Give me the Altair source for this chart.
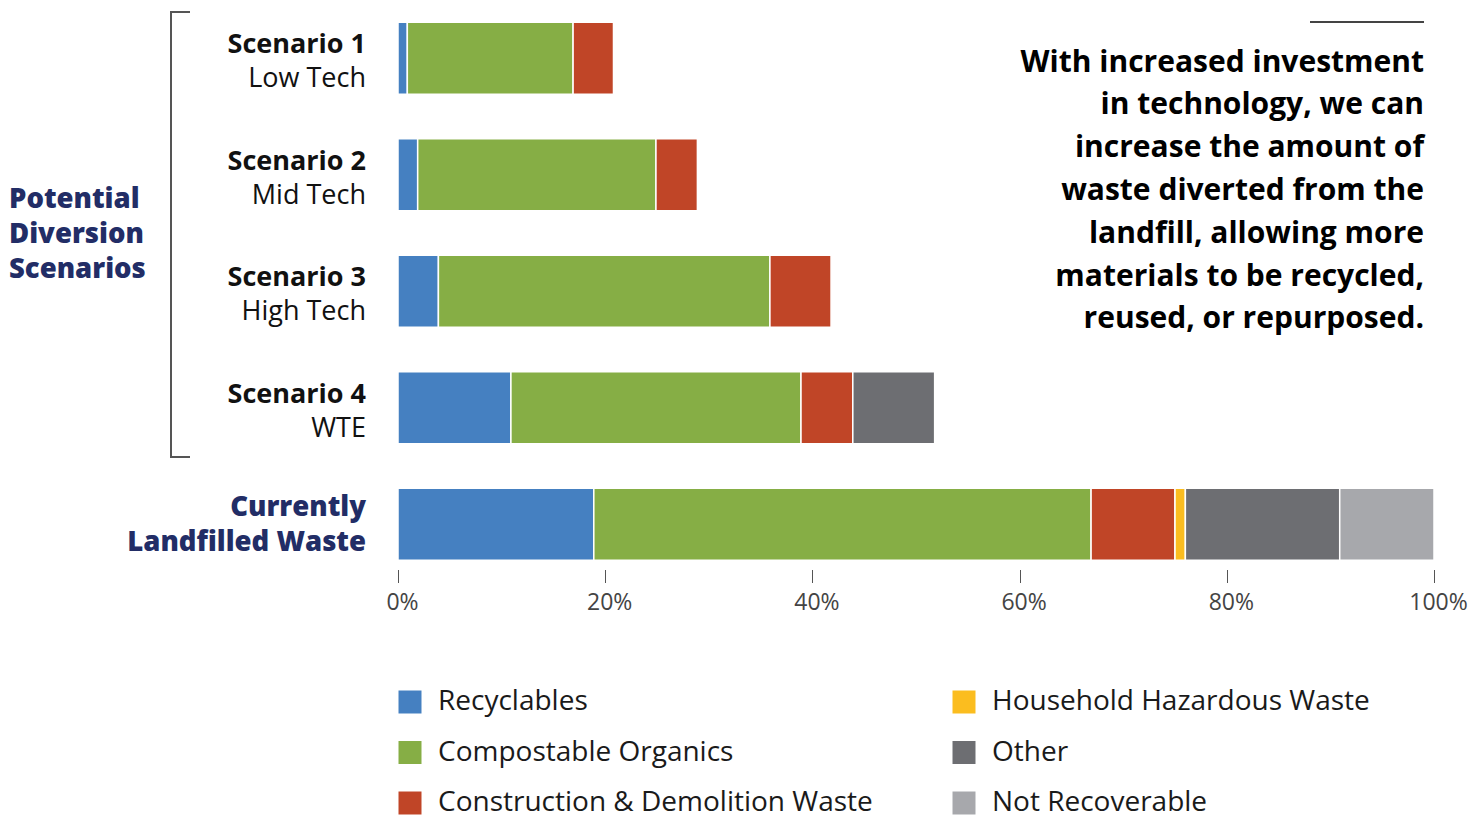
import altair as alt
import pandas as pd

rows = ["Scenario 1", "Scenario 2", "Scenario 3", "Scenario 4", "Current"]
categories = ["Recyclables", "Compostable Organics", "Construction & Demolition Waste",
              "Household Hazardous Waste", "Other", "Not Recoverable"]
colors = ["#4580C1", "#86AE45", "#C04527", "#FBBD1F", "#6D6E72", "#A7A8AC"]

# percent values per row, in stacking order of categories
recyclables = [0.9, 1.9, 3.9, 10.9, 18.9]
compostable = [16.0, 23.0, 32.0, 28.0, 48.0]
cnd = [3.9, 4.0, 5.9, 5.0, 8.1]
hhw = [0.0, 0.0, 0.0, 0.0, 1.0]
other = [0.0, 0.0, 0.0, 7.9, 14.9]
not_recoverable = [0.0, 0.0, 0.0, 0.0, 9.1]

label_line1 = ["Scenario 1", "Scenario 2", "Scenario 3", "Scenario 4"]
label_line2 = ["Low Tech", "Mid Tech", "High Tech", "WTE"]
current_lines = ["Currently", "Landfilled Waste"]
group_title = ["Potential", "Diversion", "Scenarios"]
annotation = ["With increased investment", "in technology, we can",
              "increase the amount of", "waste diverted from the",
              "landfill, allowing more", "materials to be recycled,",
              "reused, or repurposed."]
ticks = [0, 20, 40, 60, 80, 100]

series = [recyclables, compostable, cnd, hhw, other, not_recoverable]
recs = []
for ci, (cat, vals) in enumerate(zip(categories, series)):
    for r, v in zip(rows, vals):
        if v > 0:
            recs.append({"row": r, "category": cat, "value": v, "order": ci})
df = pd.DataFrame(recs)

FONT = "Open Sans"
NAVY = "#222D66"

yenc = alt.Y("row:N", sort=rows, axis=None,
             scale=alt.Scale(domain=rows, paddingInner=0.382, paddingOuter=0.191))

bars = alt.Chart(df).mark_bar(stroke="white", strokeWidth=1.5).encode(
    x=alt.X("value:Q", stack="zero",
            scale=alt.Scale(domain=[0, 100], nice=False),
            axis=alt.Axis(values=ticks, title=None, grid=False, domain=False,
                          labelExpr="datum.value + '%'", labelFont=FONT,
                          labelFontSize=23, labelColor="#444444", tickColor="#555555",
                          tickSize=13, tickWidth=1, offset=-13, labelPadding=9,
                          labelFlush=False, labelOffset=4)),
    y=yenc,
    color=alt.Color("category:N",
                    scale=alt.Scale(domain=categories, range=colors),
                    legend=alt.Legend(title=None, orient="none", legendX=-2, legendY=688,
                                      columns=2, symbolType="square", symbolSize=529,
                                      symbolStrokeWidth=0, labelFont=FONT,
                                      labelFontSize=28, labelColor="#1A1A1A",
                                      labelOffset=14, rowPadding=22.5, columnPadding=77,
                                      padding=0, labelLimit=600)),
    order=alt.Order("order:Q"),
)

lab_df = pd.DataFrame({"row": rows[:4], "l1": label_line1, "l2": label_line2})
lab1 = alt.Chart(lab_df).mark_text(align="right", baseline="middle", font=FONT,
                                   fontSize=27, fontWeight="bold", color="#111111",
                                   dy=-13).encode(
    x=alt.value(-32), y=yenc, text="l1:N")
lab2 = alt.Chart(lab_df).mark_text(align="right", baseline="middle", font=FONT,
                                   fontSize=27, color="#111111", dy=21).encode(
    x=alt.value(-32), y=yenc, text="l2:N")

cur_df = pd.DataFrame({"row": ["Current", "Current"], "t": current_lines, "k": [0, 1]})
cur1 = alt.Chart(cur_df).transform_filter("datum.k == 0").mark_text(
    align="right", baseline="middle", font=FONT, fontSize=27.5, fontWeight=800,
    color=NAVY, dy=-16).encode(x=alt.value(-32), y=yenc, text="t:N")
cur2 = alt.Chart(cur_df).transform_filter("datum.k == 1").mark_text(
    align="right", baseline="middle", font=FONT, fontSize=27.5, fontWeight=800,
    color=NAVY, dy=19).encode(x=alt.value(-32), y=yenc, text="t:N")

group = alt.Chart(pd.DataFrame({"a": [0]})).mark_text(
    align="left", baseline="middle", font=FONT, fontSize=27.5, fontWeight=800,
    color=NAVY, lineHeight=35).encode(
    x=alt.value(-389), y=alt.value(200), text=alt.value(group_title))

note = alt.Chart(pd.DataFrame({"a": [0]})).mark_text(
    align="right", baseline="middle", font=FONT, fontSize=30, fontWeight="bold",
    color="#000000", lineHeight=42.8).encode(
    x=alt.value(1026), y=alt.value(62.5), text=alt.value(annotation))

one = pd.DataFrame({"a": [0]})
br_v = alt.Chart(one).mark_rule(color="#555555", strokeWidth=2).encode(
    x=alt.value(-227), y=alt.value(12), y2=alt.value(457))
br_t = alt.Chart(one).mark_rule(color="#555555", strokeWidth=2).encode(
    x=alt.value(-228), x2=alt.value(-208), y=alt.value(12))
br_b = alt.Chart(one).mark_rule(color="#555555", strokeWidth=2).encode(
    x=alt.value(-228), x2=alt.value(-208), y=alt.value(457))
top_line = alt.Chart(one).mark_rule(color="#444444", strokeWidth=2).encode(
    x=alt.value(912), x2=alt.value(1026), y=alt.value(22))

chart = alt.layer(bars, lab1, lab2, cur1, cur2, group, note, br_v, br_t, br_b, top_line
).properties(
    width=1036, height=582.5,
    autosize=alt.AutoSizeParams(type="none"),
    padding={"left": 398, "top": 0, "right": 49, "bottom": 233},
    background="white",
).configure_view(stroke=None)

chart.save("out.html", embed_options={"renderer": "svg", "actions": False})
